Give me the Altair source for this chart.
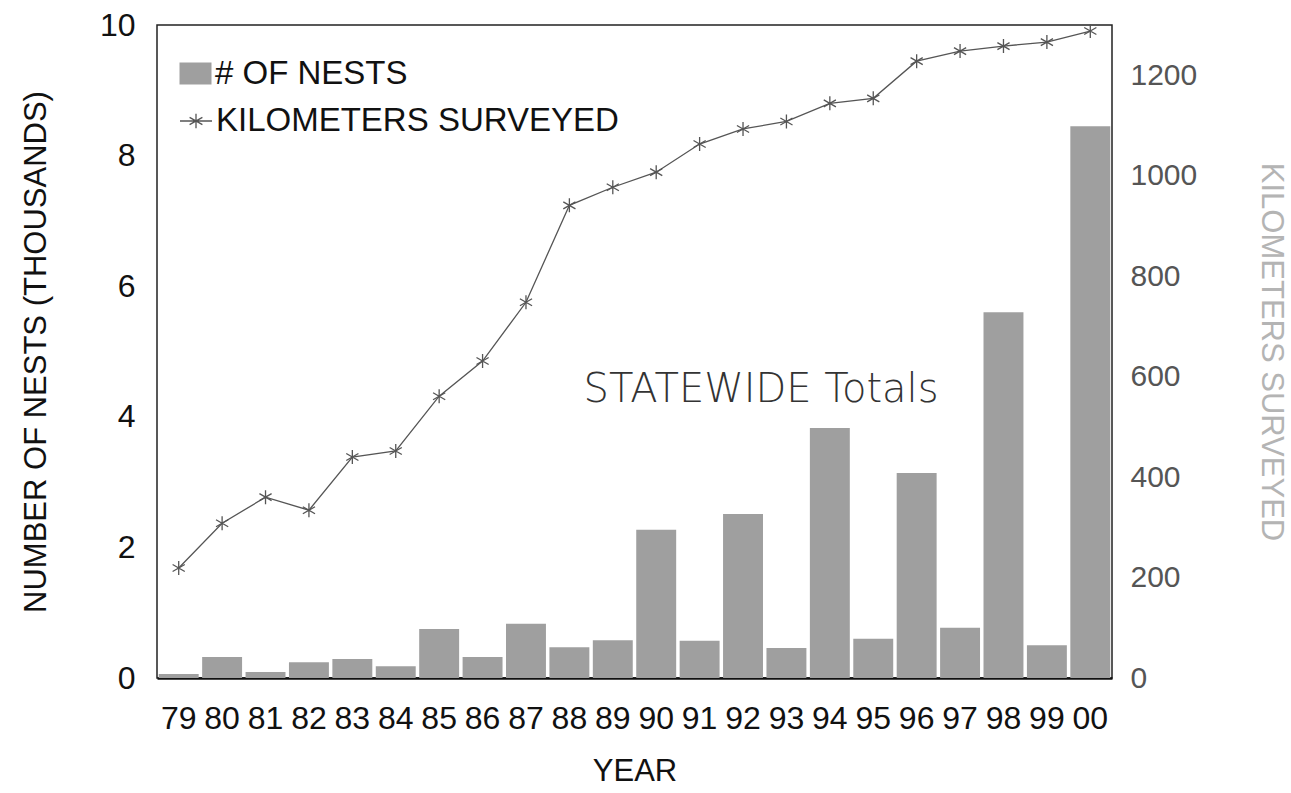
import altair as alt
import pandas as pd

years = ["79", "80", "81", "82", "83", "84", "85", "86", "87", "88", "89",
         "90", "91", "92", "93", "94", "95", "96", "97", "98", "99", "00"]
nests_thousands = [0.06, 0.32, 0.09, 0.24, 0.29, 0.18, 0.75, 0.32, 0.83, 0.47, 0.58,
                   2.27, 0.57, 2.51, 0.46, 3.83, 0.60, 3.14, 0.77, 5.60, 0.50, 8.45]
km_surveyed = [219, 308, 360, 334, 440, 452, 561, 631, 748, 941, 977,
               1007, 1063, 1093, 1108, 1144, 1154, 1228, 1248, 1258, 1266, 1288]
left_ticks = [0, 2, 4, 6, 8, 10]
right_ticks = [0, 200, 400, 600, 800, 1000, 1200]
bar_name = "# OF NESTS"
line_name = "KILOMETERS SURVEYED"
note_text = ["STATEWIDE Totals"]
note_year = ["92"]
note_value = [4.41]

df = pd.DataFrame({
    "year": years,
    "nests": nests_thousands,
    "km": km_surveyed,
    "bar_series": bar_name,
    "line_series": line_name,
})
notes = pd.DataFrame({"text": note_text, "year": note_year, "value": note_value})

FONT = "Liberation Sans"
STAR = "M0,-1L0,1M-0.87,-0.5L0.87,0.5M-0.87,0.5L0.87,-0.5"
RECT = "M-1,-0.68H1V0.68H-1Z"
LINE_STAR = "M-1,0H1M0,-0.45V0.45M-0.4,-0.23L0.4,0.23M-0.4,0.23L0.4,-0.23"

x_enc = alt.X(
    "year:N", sort=years,
    scale=alt.Scale(paddingInner=0.08, paddingOuter=0.04),
    axis=alt.Axis(title="YEAR", labelAngle=0, ticks=False, domain=True,
                  domainColor="#111", domainWidth=2.5,
                  labelFont=FONT, labelFontSize=32, labelColor="#111",
                  labelPadding=25, titleFont=FONT, titleFontSize=31,
                  titleFontWeight="normal", titleColor="#111", titlePadding=22),
)

bars = alt.Chart(df).mark_bar(opacity=1).encode(
    x=x_enc,
    y=alt.Y("nests:Q", scale=alt.Scale(domain=[0, 10], nice=False),
            axis=alt.Axis(title="NUMBER OF NESTS (THOUSANDS)", values=left_ticks,
                          ticks=False, domain=False, grid=False,
                          labelFont=FONT, labelFontSize=32, labelColor="#111",
                          labelPadding=22, titleFont=FONT, titleFontSize=31,
                          titleFontWeight="normal", titleColor="#111",
                          titlePadding=47)),
    fill=alt.Fill("bar_series:N", scale=alt.Scale(domain=[bar_name], range=["#9f9f9f"]),
                  legend=alt.Legend(title=None, orient="none", legendX=22, legendY=32,
                                    symbolType=RECT, symbolSize=1024,
                                    symbolStrokeWidth=0, labelFont=FONT,
                                    labelFontSize=33, labelColor="#111",
                                    labelOffset=3, labelLimit=800, padding=0)),
)

line = alt.Chart(df).mark_line(strokeWidth=1.3).encode(
    x=x_enc,
    y=alt.Y("km:Q", scale=alt.Scale(domain=[0, 1300], nice=False),
            axis=alt.Axis(orient="right", title=line_name, values=right_ticks,
                          format="d", ticks=False, domain=False, grid=False,
                          labelFont=FONT, labelFontSize=30, labelColor="#555",
                          labelPadding=18, titleFont=FONT, titleFontSize=31,
                          titleFontWeight="normal", titleColor="#b4b4b4",
                          titlePadding=58)),
    stroke=alt.Stroke("line_series:N", scale=alt.Scale(domain=[line_name], range=["#555555"]),
                      legend=alt.Legend(title=None, orient="none", legendX=22, legendY=79,
                                        symbolType=LINE_STAR, symbolSize=1024,
                                        symbolStrokeWidth=1.3, symbolFillColor="transparent",
                                        labelFont=FONT, labelFontSize=33,
                                        labelColor="#111", labelOffset=3,
                                        labelLimit=800, padding=0)),
)

points = alt.Chart(df).mark_point(shape=STAR, size=196, filled=False,
                                  stroke="#555555", strokeWidth=1.3, opacity=1).encode(
    x=x_enc,
    y=alt.Y("km:Q", scale=alt.Scale(domain=[0, 1300], nice=False), axis=None),
)

note = alt.Chart(notes).mark_text(font="DejaVu Sans", fontSize=40, fontWeight=300,
                                  color="#333", align="center", baseline="middle",
                                  dx=18).encode(
    x=alt.X("year:N", sort=years),
    y=alt.Y("value:Q", scale=alt.Scale(domain=[0, 10], nice=False), axis=None),
    text="text:N",
)

chart = alt.layer(bars, line, points, note).resolve_scale(
    y="independent", fill="independent", stroke="independent"
).properties(
    width=955, height=653,
    autosize=alt.AutoSizeParams(type="none"),
    padding={"left": 157, "top": 25, "right": 179, "bottom": 115},
    background="white",
).configure_view(stroke="#222", strokeWidth=1.5)

chart.save("out.html", embed_options={"renderer": "svg", "actions": False})
